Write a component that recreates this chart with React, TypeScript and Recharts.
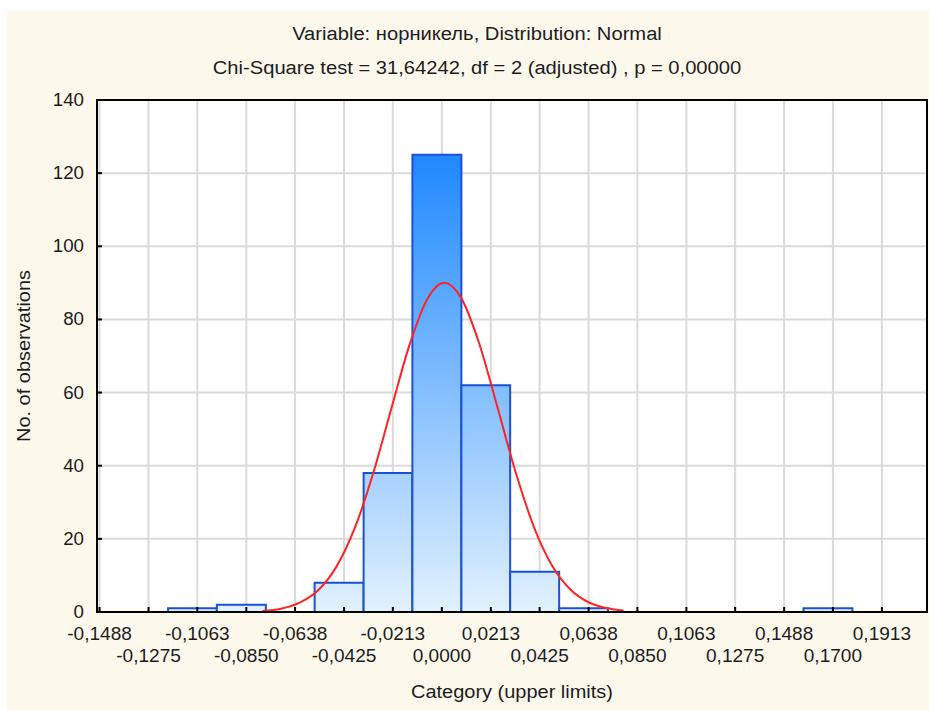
import { ComposedChart, Line, XAxis, YAxis, CartesianGrid, ReferenceArea } from "recharts"

// histogram bins (lower / upper limits) and counts
const binLower = [-0.119, -0.0978, -0.0765, -0.0553, -0.034, -0.0128, 0.0085, 0.0297, 0.051, 0.0722, 0.0935, 0.1147, 0.136, 0.1572]
const binUpper = [-0.0978, -0.0765, -0.0553, -0.034, -0.0128, 0.0085, 0.0297, 0.051, 0.0722, 0.0935, 0.1147, 0.136, 0.1572, 0.1785]
const counts = [1, 2, 0, 8, 38, 125, 62, 11, 1, 0, 0, 0, 0, 1]

// fitted normal curve (expected counts)
const curveX = [-0.078, -0.07, -0.062, -0.054, -0.046, -0.038, -0.03, -0.022, -0.014, -0.006, 0.001, 0.008, 0.016, 0.024, 0.032, 0.04, 0.048, 0.056, 0.064, 0.072, 0.079]
const curveY = [0.3, 0.9, 2.5, 5.8, 12.2, 22.7, 37.6, 55.5, 73.1, 85.9, 90.0, 86.3, 73.9, 56.4, 38.4, 23.3, 12.6, 6.1, 2.6, 1.0, 0.4]

const xTicks = [-0.1488, -0.1275, -0.1063, -0.085, -0.0638, -0.0425, -0.0213, 0, 0.0213, 0.0425, 0.0638, 0.085, 0.1063, 0.1275, 0.1488, 0.17, 0.1913]
const yTicks = [0, 20, 40, 60, 80, 100, 120, 140]
const xDomain = [-0.1499, 0.2109]
const yDomain = [0, 140]

const title1 = "Variable: норникель, Distribution: Normal"
const title2 = "Chi-Square test = 31,64242, df = 2 (adjusted) , p = 0,00000"
const xLabel = "Category (upper limits)"
const yLabel = "No. of observations"

const curveData = curveX.map((x, i) => ({ x, expected: curveY[i] }))
const bins = binLower.map((lo, i) => ({ lo, hi: binUpper[i], n: counts[i] })).filter((b) => b.n > 0)

const font = "'Liberation Sans', Arial, sans-serif"
const textColor = "#1c1c1c"

const fmt = (v: number) => (v < 0 ? "-" : "") + Math.abs(v).toFixed(4).replace(".", ",")

function XTick(props: any) {
  const { x, y, payload, index } = props
  const row = index % 2 === 0 ? 32.5 : 54.5
  return (
    <g transform={`translate(${x},${y + row})`}>
      <text transform="scale(1.06,1)" textAnchor="middle" fontSize={18} fontFamily={font} fill={textColor}>
        {fmt(payload.value)}
      </text>
    </g>
  )
}

function YTick(props: any) {
  const { x, y, payload } = props
  return (
    <g transform={`translate(${x},${y})`}>
      <text transform="scale(1.04,1)" textAnchor="end" dy={6} fontSize={18} fontFamily={font} fill={textColor}>
        {payload.value}
      </text>
    </g>
  )
}

export default function App() {
  return (
    <div style={{ position: "absolute", left: 0, top: 0, width: 929, height: 710, background: "#fff", overflow: "hidden" }}>
      <div style={{ position: "absolute", left: 7, top: 10, width: 922, height: 700, background: "#fdf8ec" }} />
      <div
        style={{
          position: "absolute",
          left: 0,
          width: 954,
          top: 23,
          textAlign: "center",
          fontFamily: font,
          fontSize: 18,
          lineHeight: "22px",
          color: textColor,
          transform: "scaleX(1.12)",
        }}
      >
        <div>{title1}</div>
        <div style={{ marginTop: 12 }}>{title2}</div>
      </div>
      <div style={{ position: "absolute", left: 0, top: 0 }}>
        <ComposedChart width={929} height={710} data={curveData} margin={{ top: 99, right: 1, bottom: 0, left: 0 }}>
          <defs>
            <linearGradient id="barFill" gradientUnits="userSpaceOnUse" x1={0} y1={100} x2={0} y2={612}>
              <stop offset="0%" stopColor="#077cff" />
              <stop offset="100%" stopColor="#e2f1ff" />
            </linearGradient>
          </defs>
          <CartesianGrid stroke="#dadada" strokeWidth={2} fill="#ffffff" fillOpacity={1} />
          <XAxis
            type="number"
            dataKey="x"
            domain={xDomain}
            ticks={xTicks}
            interval={0}
            allowDataOverflow
            height={98}
            tickSize={-5}
            tickMargin={0}
            tick={<XTick />}
            axisLine={{ stroke: "#000", strokeWidth: 2 }}
            tickLine={{ stroke: "#000", strokeWidth: 2 }}
            label={{
              content: (p: any) => {
                const vb = p.viewBox || {}
                const cx = (vb.x || 0) + (vb.width || 0) / 2
                return (
                  <g transform={`translate(${cx},698)`}>
                    <text transform="scale(1.11,1)" textAnchor="middle" fontSize={18} fontFamily={font} fill={textColor}>
                      {xLabel}
                    </text>
                  </g>
                )
              },
            }}
          />
          <XAxis
            xAxisId="top"
            orientation="top"
            type="number"
            domain={xDomain}
            ticks={xTicks}
            interval={0}
            allowDataOverflow
            height={1}
            tickSize={-5}
            tick={false}
            axisLine={{ stroke: "#000", strokeWidth: 2 }}
            tickLine={{ stroke: "#000", strokeWidth: 2 }}
          />
          <YAxis
            type="number"
            domain={yDomain}
            ticks={yTicks}
            interval={0}
            width={97}
            tickSize={-5}
            tickMargin={18}
            tick={<YTick />}
            axisLine={{ stroke: "#000", strokeWidth: 2 }}
            tickLine={{ stroke: "#000", strokeWidth: 2 }}
            label={{
              content: (p: any) => {
                const vb = p.viewBox || {}
                const cy = (vb.y || 0) + (vb.height || 0) / 2
                return (
                  <g transform={`translate(24,${cy}) rotate(-90)`}>
                    <text transform="scale(1.11,1)" textAnchor="middle" dy={6} fontSize={18} fontFamily={font} fill={textColor}>
                      {yLabel}
                    </text>
                  </g>
                )
              },
            }}
          />
          <YAxis
            yAxisId="right"
            orientation="right"
            type="number"
            domain={yDomain}
            ticks={yTicks}
            interval={0}
            allowDataOverflow
            width={1}
            tickSize={-5}
            tick={false}
            axisLine={{ stroke: "#000", strokeWidth: 2 }}
            tickLine={{ stroke: "#000", strokeWidth: 2 }}
          />
          {bins.map((b, i) => (
            <ReferenceArea
              key={i}
              x1={b.lo}
              x2={b.hi}
              y1={0}
              y2={b.n}
              fill="url(#barFill)"
              fillOpacity={1}
              stroke="#1a52d6"
              strokeWidth={2}
            />
          ))}
          <Line
            type="monotone"
            dataKey="expected"
            stroke="#ff2323"
            strokeWidth={2}
            dot={false}
            activeDot={false}
            isAnimationActive={false}
          />
          {/* plot frame */}
          <ReferenceArea
            x1={xDomain[0]}
            x2={xDomain[1]}
            y1={yDomain[0]}
            y2={yDomain[1]}
            fill="none"
            stroke="#000"
            strokeWidth={2}
          />
        </ComposedChart>
      </div>
    </div>
  )
}
